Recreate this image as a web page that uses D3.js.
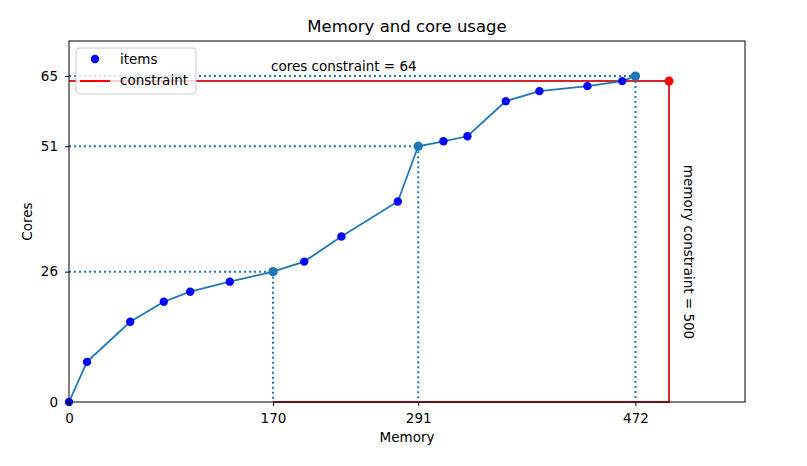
<!DOCTYPE html>
<html><head><meta charset="utf-8">
<script src="https://cdn.jsdelivr.net/npm/d3@7"></script>
<style>body{margin:0;background:#fff}text{font-family:"DejaVu Sans",sans-serif}</style>
</head><body><svg id="c" width="807" height="466"></svg>
<script>
const memory = [0, 15, 51, 79, 101, 134, 170, 196, 227, 274, 291, 312, 332, 364, 392, 432, 461, 472];
const cores  = [0, 8, 16, 20, 22, 24, 26, 28, 33, 40, 51, 52, 53, 60, 62, 63, 64, 65];
const highlightMemory = [170, 291, 472];
const highlightCores = [26, 51, 65];
const memoryConstraint = 500;
const coresConstraint = 64;
const xTicks = [0, 170, 291, 472];
const yTicks = [0, 26, 51, 65];

const svg = d3.select("#c");
const L = 69, R = 745, T = 41, B = 402;
const x = d3.scaleLinear().domain([0, 563.3]).range([L, R]);
const y = d3.scaleLinear().domain([0, 72]).range([B, T]);
const blue = "#1f77b4";

svg.append("text").attr("x", (L + R) / 2).attr("y", 32).attr("text-anchor", "middle").attr("font-size", 16.5).text("Memory and core usage");

const g = svg.append("g");
// dotted guides
highlightMemory.forEach((m, i) => {
  g.append("line").attr("x1", x(0)).attr("x2", x(m)).attr("y1", y(highlightCores[i])).attr("y2", y(highlightCores[i]))
    .attr("stroke", blue).attr("stroke-width", 2).attr("stroke-dasharray", "2,3");
  g.append("line").attr("x1", x(m)).attr("x2", x(m)).attr("y1", y(highlightCores[i])).attr("y2", y(0))
    .attr("stroke", blue).attr("stroke-width", 2).attr("stroke-dasharray", "2,3");
});
// red constraint
g.append("path").attr("d", d3.line()([[x(0), y(coresConstraint)], [x(memoryConstraint), y(coresConstraint)], [x(memoryConstraint), y(0)], [x(170), y(0)]]))
  .attr("fill", "none").attr("stroke", "#d62728").attr("stroke-width", 2);
g.append("circle").attr("cx", x(memoryConstraint)).attr("cy", y(coresConstraint)).attr("r", 4.5).attr("fill", "red");

// line
g.append("path").datum(memory.map((m, i) => [m, cores[i]]))
  .attr("d", d3.line().x(d => x(d[0])).y(d => y(d[1])))
  .attr("fill", "none").attr("stroke", blue).attr("stroke-width", 1.8);
g.selectAll("circle.it").data(memory.map((m, i) => [m, cores[i]]).filter(d => !highlightMemory.includes(d[0])))
  .enter().append("circle").attr("class", "it").attr("cx", d => x(d[0])).attr("cy", d => y(d[1])).attr("r", 4.2).attr("fill", "blue");
g.selectAll("circle.hl").data(highlightMemory.map((m, i) => [m, highlightCores[i]]))
  .enter().append("circle").attr("class", "hl").attr("cx", d => x(d[0])).attr("cy", d => y(d[1])).attr("r", 4.7).attr("fill", blue);

// annotations
svg.append("text").attr("x", x(229)).attr("y", 71).attr("text-anchor", "middle").attr("font-size", 13.5).text("cores constraint = " + coresConstraint);
svg.append("text").attr("transform", `translate(${x(memoryConstraint) + 15},252) rotate(90)`)
  .attr("text-anchor", "middle").attr("font-size", 13.5).text("memory constraint = " + memoryConstraint);

// axes
const xa = svg.append("g").attr("transform", `translate(0,${B})`).call(d3.axisBottom(x).tickValues(xTicks).tickSize(4).tickPadding(7));
const ya = svg.append("g").attr("transform", `translate(${L},0)`).call(d3.axisLeft(y).tickValues(yTicks).tickSize(4).tickPadding(7));
[xa, ya].forEach(a => { a.select(".domain").remove(); a.selectAll("text").attr("font-size", 13.5).attr("font-family", "DejaVu Sans").attr("fill", "#000"); a.selectAll("line").attr("stroke", "#000"); });
svg.append("rect").attr("x", L).attr("y", T).attr("width", R - L).attr("height", B - T).attr("fill", "none").attr("stroke", "#000").attr("stroke-width", 1);

svg.append("text").attr("x", (L + R) / 2).attr("y", 442).attr("text-anchor", "middle").attr("font-size", 13.5).text("Memory");
svg.append("text").attr("transform", `translate(32,${(T + B) / 2}) rotate(-90)`).attr("text-anchor", "middle").attr("font-size", 13.5).text("Cores");

// legend
const lg = svg.append("g");
lg.append("rect").attr("x", 76).attr("y", 48).attr("width", 120).attr("height", 46).attr("rx", 3)
  .attr("fill", "#fff").attr("fill-opacity", 0.8).attr("stroke", "#ccc");
lg.append("circle").attr("cx", 95).attr("cy", 59).attr("r", 4.2).attr("fill", "blue");
lg.append("text").attr("x", 120).attr("y", 64).attr("font-size", 13.5).text("items");
lg.append("line").attr("x1", 80).attr("x2", 110).attr("y1", 81).attr("y2", 81).attr("stroke", "red").attr("stroke-width", 2);
lg.append("text").attr("x", 120).attr("y", 85).attr("font-size", 13.5).text("constraint");
</script></body></html>
